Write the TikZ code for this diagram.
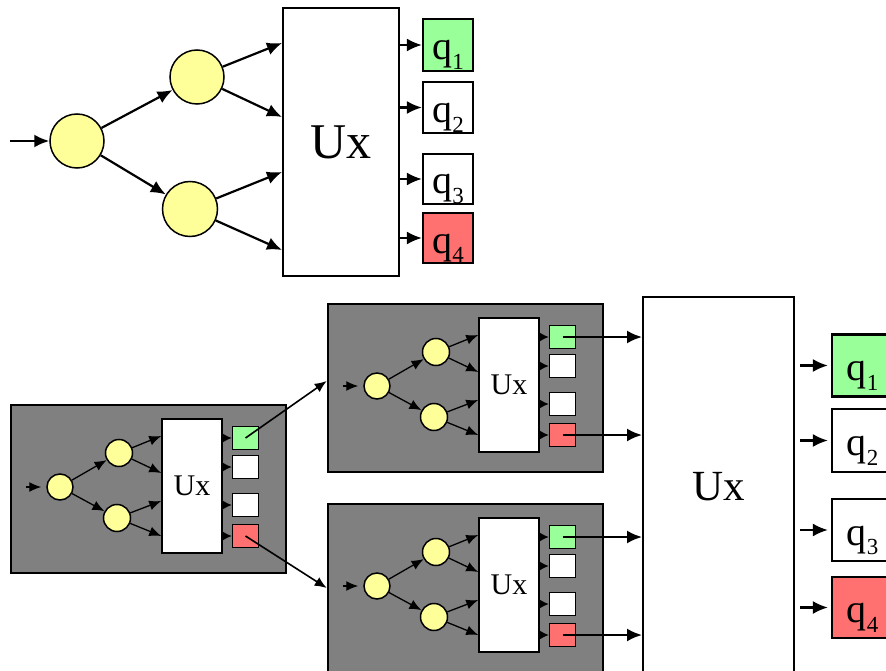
\documentclass[tikz,border=0pt]{standalone}
\usepackage{fontspec}
\setmainfont{Liberation Serif}
\usetikzlibrary{arrows.meta}
\definecolor{qyellow}{RGB}{255,255,153}
\definecolor{qgreen}{RGB}{153,255,153}
\definecolor{qred}{RGB}{255,112,112}
\definecolor{boxgray}{RGB}{128,128,128}
\newcommand{\qlab}[1]{q\raisebox{-0.24em}{\fontsize{23}{23}\selectfont #1}}
\tikzset{
  arr/.style={-{Latex[length=15pt,width=13pt]}, line width=2.2pt},
  smallarr/.style={-{Latex[length=12pt,width=10pt]}, line width=1.3pt},
  tinyarr/.style={-{Latex[length=9pt,width=9pt]}, line width=1.3pt},
  qnode/.style={circle, draw, line width=1.5pt, fill=qyellow, inner sep=0pt, minimum size=#1},
  uxbox/.style={draw, line width=2pt, fill=white, inner sep=0pt},
  qbox/.style={draw, line width=2.2pt, inner sep=0pt, text height=36pt, text depth=6pt,
    font=\fontsize{40}{40}\selectfont},
  graybox/.style={draw, line width=2.5pt, fill=boxgray, inner sep=0pt},
  minibox/.style={draw, line width=1.5pt, fill=white, inner sep=0pt,
    minimum width=26pt, minimum height=23pt},
  uxsmall/.style={draw, line width=1.5pt, fill=white, inner sep=0pt,
    minimum width=60pt, minimum height=134pt, font=\fontsize{30}{30}\selectfont}
}
\newcommand{\minicircuit}[3]{%
\begin{scope}[shift={(#2,#3)}]
\node[graybox, minimum width=275pt, minimum height=168pt] (#1box) at (137.5,84) {};
\coordinate (#1in) at (15,82);
\node[qnode=26pt] (#1a) at (49,82) {};
\node[qnode=27pt] (#1b) at (108,48) {};
\node[qnode=27pt] (#1c) at (106,113) {};
\node[uxsmall] (#1ux) at (181,81) {Ux};
\node[minibox, fill=qgreen] (#1q1) at (234.5,33) {};
\node[minibox] (#1q2) at (234.5,62) {};
\node[minibox] (#1q3) at (234.5,100) {};
\node[minibox, fill=qred] (#1q4) at (234.5,131) {};
\draw[smallarr, shorten >=5pt] (#1in) -- (#1a);
\draw[smallarr] (#1a) -- (#1b);
\draw[smallarr] (#1a) -- (#1c);
\draw[smallarr] (#1b) -- (#1ux.west |- 0,31);
\draw[smallarr] (#1b) -- (#1ux.west |- 0,68);
\draw[smallarr] (#1c) -- (#1ux.west |- 0,96);
\draw[smallarr] (#1c) -- (#1ux.west |- 0,131);
\foreach \i in {1,...,4}
  \draw[tinyarr] (#1ux.east |- #1q\i) -- (#1q\i);
\end{scope}}

\begin{document}
\begin{tikzpicture}[x=1pt,y=-1pt]
\useasboundingbox (0,0) rectangle (886,671);

% one stage
\coordinate (in) at (10,141);
\node[qnode=54pt] (a) at (77,141) {};
\node[qnode=54pt] (b) at (197,77) {};
\node[qnode=55pt] (c) at (190,209) {};
\node[uxbox, minimum width=116pt, minimum height=268pt, font=\fontsize{50}{50}\selectfont] (ux) at (341,142) {Ux};
\node[qbox, minimum width=50pt, minimum height=52pt, fill=qgreen] (q1) at (448,45) {\qlab{1}};
\node[qbox, minimum width=50pt, minimum height=51pt] (q2) at (448,107.5) {\qlab{2}};
\node[qbox, minimum width=50pt, minimum height=50pt] (q3) at (448,179) {\qlab{3}};
\node[qbox, minimum width=50pt, minimum height=50pt, fill=qred] (q4) at (448,238) {\qlab{4}};
\draw[arr] (in) -- (a);
\draw[arr] (a) -- (b);
\draw[arr] (a) -- (c);
\draw[arr] (b) -- (ux.west |- 0,43);
\draw[arr] (b) -- (ux.west |- 0,117);
\draw[arr] (c) -- (ux.west |- 0,172);
\draw[arr] (c) -- (ux.west |- 0,250);
\foreach \i in {1,...,4}
  \draw[arr] (ux.east |- q\i) -- (q\i);

% cascaded stages
\minicircuit{L}{11}{405}
\minicircuit{U}{328}{304}
\minicircuit{D}{328}{504}
\draw[smallarr, line width=1.6pt] (Lq1.center) -- (Ubox.west |- 0,381);
\draw[smallarr, line width=1.6pt] (Lq4.center) -- (Dbox.west |- 0,588);

\node[uxbox, minimum width=151pt, minimum height=380pt, font=\fontsize{43}{43}\selectfont] (bigux) at (718.5,487) {Ux};
\node[qbox, minimum width=61pt, minimum height=62pt, fill=qgreen] (p1) at (862.5,365.5) {\qlab{1}};
\node[qbox, minimum width=61pt, minimum height=63pt] (p2) at (862.5,440.5) {\qlab{2}};
\node[qbox, minimum width=61pt, minimum height=62pt] (p3) at (862.5,530) {\qlab{3}};
\node[qbox, minimum width=61pt, minimum height=61pt, fill=qred] (p4) at (862.5,607.5) {\qlab{4}};
\draw[arr] (Uq1.center) -- (bigux.west |- Uq1.center);
\draw[arr] (Uq4.center) -- (bigux.west |- Uq4.center);
\draw[arr] (Dq1.center) -- (bigux.west |- Dq1.center);
\draw[arr] (Dq4.center) -- (bigux.west |- Dq4.center);
\foreach \i in {1,...,4}
  \draw[arr, shorten <=5pt, shorten >=3pt] (bigux.east |- p\i) -- (p\i);
\end{tikzpicture}
\end{document}
